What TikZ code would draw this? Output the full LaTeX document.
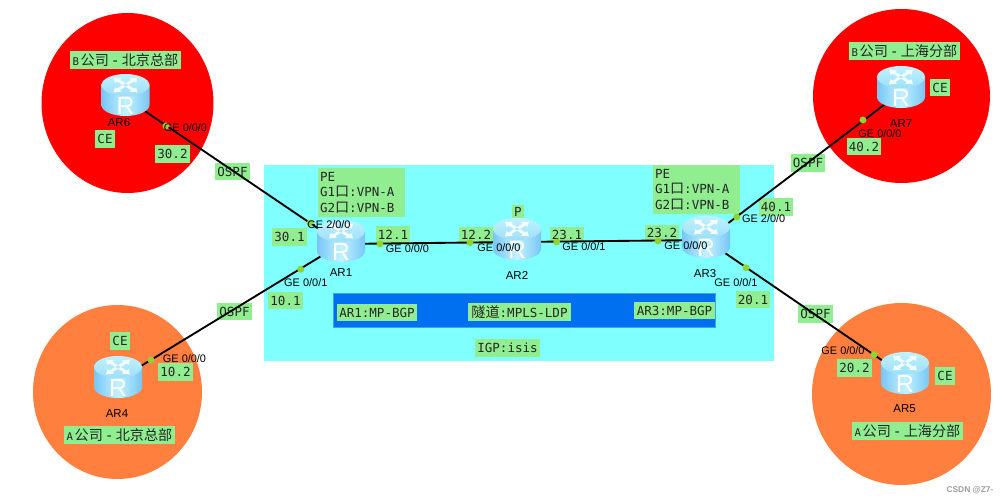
\documentclass[tikz,border=0pt]{standalone}
\usepackage{fontspec}
\setmainfont{Liberation Sans}
\setmonofont{DejaVu Sans Mono}
\newfontfamily\cjk{Noto Sans CJK SC}
\usetikzlibrary{calc}
\definecolor{lbl}{HTML}{90EE90}
\definecolor{linkdot}{HTML}{8FD42F}
\definecolor{cyanzone}{HTML}{80FFFF}
\definecolor{tunnel}{HTML}{0070F0}
\definecolor{tunnelb}{HTML}{3FA0F5}
\definecolor{sitea}{HTML}{FF7F3F}
\definecolor{siteb}{HTML}{FF0000}
\definecolor{rtop}{HTML}{C0F1FF}
\definecolor{rtopb}{HTML}{9CDFF8}
\definecolor{rside}{HTML}{78C6F5}
\definecolor{rmid}{HTML}{C2F2FF}
\newcommand{\cj}[1]{{\cjk\fontsize{10.6pt}{10pt}\selectfont #1}}
\newcommand{\boxat}[6]{% name, x0, y0, x1, y1, text
  \node[lblbox, minimum width={(#4-#2)*0.75pt}, minimum height={(#5-#3)*0.75pt}] (#1) at ({(#2+#4)/2},{(#3+#5)/2}) {#6};}
\newcommand{\sitetitle}[2]{{\fontsize{8pt}{9pt}\selectfont #1}\kern1.2pt\cj{公司}\kern1.5pt{\fontsize{11pt}{9pt}\selectfont -}\kern1.5pt\cj{#2}}
\tikzset{
  x=0.75pt, y=-0.75pt,
  lblbox/.style={fill=lbl, inner sep=0pt, font=\ttfamily\fontsize{9.4pt}{11.5pt}\selectfont, align=left, text=black!85},
  pebox/.style={lblbox, inner xsep=1.5pt, text width=62.25pt},
  rbox/.style={minimum width=36pt, minimum height=31.5pt, inner sep=0pt},
  rname/.style={font=\fontsize{8.6pt}{10pt}\selectfont, inner sep=0pt, text=black},
  ifname/.style={font=\fontsize{8.2pt}{10pt}\selectfont, inner sep=0pt, text=black},
  link/.style={draw=black, line width=1.4pt},
  ifdot/.style={circle, fill=linkdot, minimum size=5.2pt, inner sep=0pt},
  routericon/.pic={
    \path[left color=rside, right color=rside, middle color=rmid]
      (-24,-10) -- (-24,10) .. controls (-24,16) and (-13.3,21) .. (0,21)
      .. controls (13.3,21) and (24,16) .. (24,10) -- (24,-10) -- cycle;
    \path[top color=rtop, bottom color=rtopb]
      (-24,-10) .. controls (-24,-16) and (-13.3,-21) .. (0,-21)
      .. controls (13.3,-21) and (24,-16) .. (24,-10)
      .. controls (24,-4) and (13.3,1) .. (0,1)
      .. controls (-13.3,1) and (-24,-4) .. (-24,-10) -- cycle;
    \foreach \a in {0,90,180,270}{
      \begin{scope}[yshift=7.5pt, yscale=0.62, rotate=\a+45]
        \fill[white, opacity=.85] (2,-2) -- (10,-2) -- (10,-5) -- (17,0) -- (10,5) -- (10,2) -- (2,2) -- cycle;
      \end{scope}
    }
    \node[text=white, inner sep=0pt, font=\fontsize{18.5pt}{18pt}\selectfont] at (0,11) {R};
  }
}
\begin{document}
\begin{tikzpicture}
\useasboundingbox (0,0) rectangle (1008,503);
\fill[white] (0,0) rectangle (1008,503);
% sites
\fill[siteb] (127.5,103) ellipse[x radius=86, y radius=90];
\fill[siteb] (901.5,96) ellipse[x radius=88.5, y radius=87];
\fill[sitea] (117.5,392) ellipse[x radius=84.5, y radius=87];
\fill[sitea] (901.5,394) ellipse[x radius=89.5, y radius=91];
% backbone
\fill[cyanzone] (263.5,165) rectangle (774,361);
\filldraw[fill=tunnel, draw=tunnelb, line width=.6pt] (333.5,293.5) rectangle (715,327);
% labels
\boxat{tb}{70}{51}{181}{69}{\sitetitle{B}{北京总部}}
\boxat{te}{849}{42}{960}{60}{\sitetitle{B}{上海分部}}
\boxat{ta}{64}{426}{175}{444}{\sitetitle{A}{北京总部}}
\boxat{tc}{852}{422}{963}{440}{\sitetitle{A}{上海分部}}
\boxat{ce6}{95}{130}{115}{148}{CE}
\boxat{ce7}{930}{79}{950}{96}{CE}
\boxat{ce4}{110}{332}{130}{350}{CE}
\boxat{ce5}{935}{367}{955}{385}{CE}
\boxat{n302}{155}{145}{190}{163}{30.2}
\boxat{n301}{272}{228}{307}{246}{30.1}
\boxat{n121}{376}{226}{410}{243}{12.1}
\boxat{n122}{459}{227}{493}{243}{12.2}
\boxat{n231}{550}{227}{584}{242}{23.1}
\boxat{n232}{645}{225}{679}{240}{23.2}
\boxat{n401}{759}{198}{793}{216}{40.1}
\boxat{n402}{847}{138}{881}{155}{40.2}
\boxat{n201}{736}{291}{770}{308}{20.1}
\boxat{n202}{837}{359}{872}{377}{20.2}
\boxat{n101}{268}{292}{303}{309}{10.1}
\boxat{n102}{158}{363}{193}{381}{10.2}
\boxat{o1}{215}{163}{250}{180}{OSPF}
\boxat{o2}{791}{154}{825}{172}{OSPF}
\boxat{o3}{217}{303}{252}{320}{OSPF}
\boxat{o4}{798}{305}{833}{323}{OSPF}
\node[pebox, minimum height=36.75pt] (pe1) at (361.5,192.5) {PE\\G1\cj{口}:VPN-A\\G2\cj{口}:VPN-B};
\node[pebox, minimum height=36.75pt] (pe3) at (696.5,189.5) {PE\\G1\cj{口}:VPN-A\\G2\cj{口}:VPN-B};
\boxat{p2}{512}{205}{524}{218}{P}
\boxat{bgp1}{337}{304}{417}{321}{AR1:MP-BGP}
\boxat{bgp3}{634}{302}{715}{319}{AR3:MP-BGP}
\boxat{tun}{468}{303}{571}{321}{\cj{隧道}:MPLS-LDP}
\boxat{igp}{475}{339}{540}{357}{IGP:isis}
% routers (named boxes; centre is where the links meet)
\node[rbox] (ar6) at (125.5,98) {};
\node[rbox] (ar1) at (341,244) {};
\node[rbox] (ar2) at (517,242) {};
\node[rbox] (ar3) at (706,240) {};
\node[rbox] (ar7) at (901,92) {};
\node[rbox] (ar4) at (118,380) {};
\node[rbox] (ar5) at (905,376) {};
% links
\draw[link] (ar6.center) -- (ar1.center);
\draw[link] (ar4.center) -- (ar1.center);
\draw[link] (ar1.center) -- (ar2.center);
\draw[link] (ar2.center) -- (ar3.center);
\draw[link] (ar3.center) -- (ar7.center);
\draw[link] (ar3.center) -- (ar5.center);
% router icons
\foreach \r in {ar6,ar1,ar2,ar3,ar4,ar5}{ \pic at ($(\r.center)+(0,-3)$) {routericon}; }
\pic at ($(ar7.center)+(0,-5)$) {routericon};
% interface dots
\foreach \n/\x/\y in {d6/166/126,d1a/310/223,d1b/300.7/269.3,d1c/380/244,d2a/470/242.7,d2b/556.7/242,d3a/658/241,d3b/736.7/217,d3c/746/267.7,d7/863/120,d4/151/360,d5/874/354.7}{
  \node[ifdot] (\n) at (\x,\y) {};
}
% router names
\node[rname] (lar6) at (119,122.7) {AR6};
\node[rname] (lar1) at (341,272.7) {AR1};
\node[rname] (lar2) at (517,275.7) {AR2};
\node[rname] (lar3) at (705,273.7) {AR3};
\node[rname] (lar7) at (901,123.7) {AR7};
\node[rname] (lar4) at (117,413.7) {AR4};
\node[rname] (lar5) at (904.5,409) {AR5};
% interface names
\node[ifname] (i6) at (185.5,127.7) {GE 0/0/0};
\node[ifname] (i1a) at (329,225) {GE 2/0/0};
\node[ifname] (i1b) at (305.8,283) {GE 0/0/1};
\node[ifname] (i1c) at (407.5,249) {GE 0/0/0};
\node[ifname] (i2a) at (499,248) {GE 0/0/0};
\node[ifname] (i2b) at (584,247) {GE 0/0/1};
\node[ifname] (i3a) at (686,246) {GE 0/0/0};
\node[ifname] (i3b) at (763.7,219) {GE 2/0/0};
\node[ifname] (i3c) at (736,283) {GE 0/0/1};
\node[ifname] (i7) at (880,134) {GE 0/0/0};
\node[ifname] (i4) at (184.5,359) {GE 0/0/0};
\node[ifname] (i5) at (843,351) {GE 0/0/0};
\node[inner sep=0pt, text=black!38, font=\bfseries\fontsize{6.3pt}{8pt}\selectfont] (wm) at (970,490) {CSDN @Z7-};
\end{tikzpicture}
\end{document}
